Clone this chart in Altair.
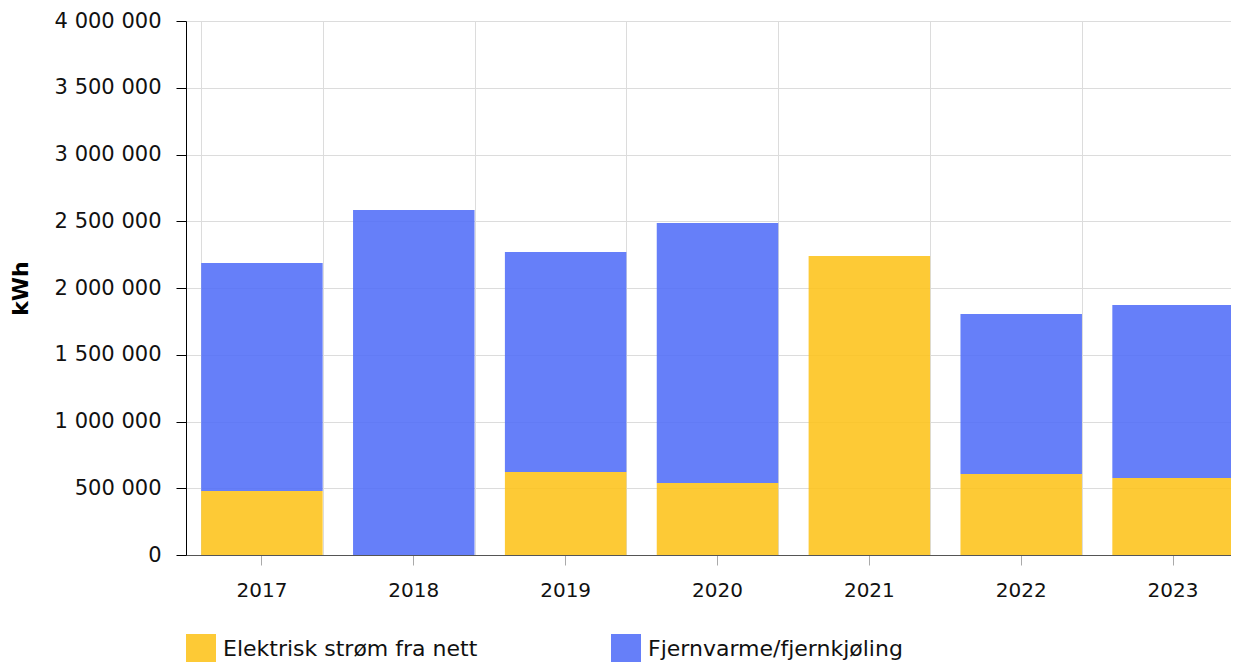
import altair as alt
import pandas as pd

years = ["2017", "2018", "2019", "2020", "2021", "2022", "2023"]
elektrisk = [479000, 0, 622000, 539000, 2240000, 607000, 577000]
fjernvarme = [1708000, 2584000, 1648000, 1948000, 0, 1198000, 1296000]
series = ["Elektrisk strøm fra nett", "Fjernvarme/fjernkjøling"]
colors = ["#FDC31A", "#516DF8"]
y_ticks = [0, 500000, 1000000, 1500000, 2000000, 2500000, 3000000, 3500000, 4000000]

rows = []
for i, y in enumerate(years):
    rows.append({"year": y, "serie": series[0], "kwh": elektrisk[i], "ord": 0})
    rows.append({"year": y, "serie": series[1], "kwh": fjernvarme[i], "ord": 1})
df = pd.DataFrame(rows)

FONT = "DejaVu Sans"

base = alt.Chart(df)

bars = base.mark_bar(opacity=0.88).encode(
    x=alt.X("year:N", title=None,
            scale=alt.Scale(paddingInner=0.2, paddingOuter=0.1, range=[0, 1063]),
            axis=alt.Axis(labelAngle=0, grid=False, ticks=True, tickSize=10,
                          tickColor="#aaaaaa", domainColor="#555555",
                          labelPadding=15, labelFontSize=20, labelColor="#111111",
                          labelFont=FONT)),
    y=alt.Y("kwh:Q", title="kWh", stack="zero",
            scale=alt.Scale(domain=[0, 4000000]),
            axis=alt.Axis(values=y_ticks,
                          labelExpr="replace(format(datum.value, ',d'), regexp(',', 'g'), ' ')",
                          grid=True, gridColor="#dcdcdc", domainColor="#000000",
                          tickColor="#000000", tickSize=10, labelPadding=15,
                          labelFontSize=21, labelFont=FONT, labelColor="#111111",
                          titleFont=FONT, titleFontSize=22, titleFontWeight="bold",
                          titleColor="#000000", titlePadding=22)),
    color=alt.Color("serie:N", scale=alt.Scale(domain=series, range=colors),
                    legend=alt.Legend(title=None, orient="none", legendX=0, legendY=613,
                                      direction="horizontal", symbolType="square",
                                      symbolSize=900, symbolStrokeWidth=0,
                                      labelFont=FONT, labelFontSize=22,
                                      labelColor="#111111", labelOffset=7,
                                      columnPadding=133, labelLimit=400)),
    order=alt.Order("ord:Q", sort="ascending"),
)

grid = base.mark_bar(opacity=0).encode(
    x=alt.X("year:N", title=None,
            axis=alt.Axis(orient="top", grid=True, gridColor="#dcdcdc", tickBand="extent",
                          labels=False, ticks=False, domain=False)),
    y=alt.Y("kwh:Q", stack="zero"),
)

chart = alt.layer(grid, bars).resolve_axis(x="independent").properties(
    width=1045, height=534,
    autosize=alt.AutoSizeParams(type="none"),
    padding={"left": 178, "top": 13, "right": 0, "bottom": 107},
).configure_view(stroke=None)

chart.save("out.html", embed_options={"renderer": "svg", "actions": False})
